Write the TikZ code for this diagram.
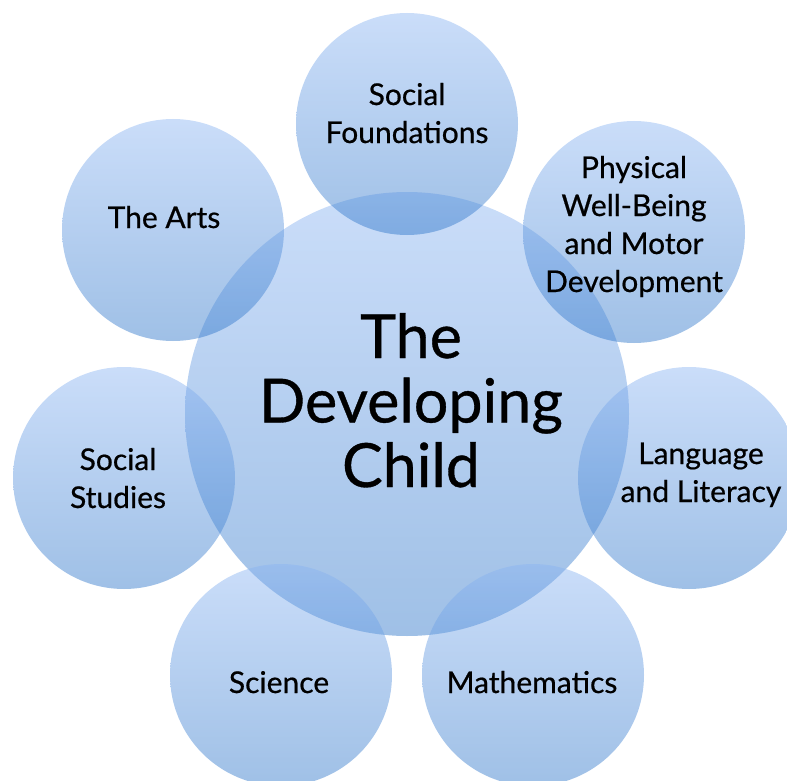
\documentclass[tikz,border=0pt]{standalone}
\usepackage{fontspec}
\setmainfont{Lato}[FakeBold=0.6]
\definecolor{ctop}{RGB}{138,180,242}
\definecolor{cbot}{RGB}{42,115,200}
\tikzset{
  bubble/.style={circle, inner sep=0pt, minimum size=#1, shade, top color=ctop, bottom color=cbot, fill opacity=0.45, draw=none},
  lbl/.style={align=center, inner sep=0pt, text=black, font=\fontsize{30}{38}\selectfont},
  biglbl/.style={align=center, inner sep=0pt, text=black, font=\fontsize{61}{64.5}\selectfont}
}
\begin{document}
\begin{tikzpicture}[x=1pt,y=-1pt]
\useasboundingbox (0,0) rectangle (787,781);
\clip (0,0) rectangle (787,781);
% circles
\node[bubble=444pt] (child) at (407,414) {};
\node[bubble=222pt] (found) at (407,124) {};
\node[bubble=222pt] (phys) at (634,232) {};
\node[bubble=222pt] (lang) at (689,478) {};
\node[bubble=222pt] (math) at (533,675) {};
\node[bubble=222pt] (sci) at (281,675) {};
\node[bubble=222pt] (socst) at (124,478) {};
\node[bubble=222pt] (arts) at (173,230) {};
% labels (anchor=base is the baseline of the last line)
\node[biglbl, anchor=base] (tchild) at (411,487) {The\\Developing\\Child};
\node[lbl, anchor=base] (tfound) at (407,143) {Social\\Foundations};
\node[lbl, anchor=base] (tphys) at (634,292) {Physical\\Well-Being\\and Motor\\Development};
\node[lbl, anchor=base] (tlang) at (701,502) {Language\\and Literacy};
\node[lbl, anchor=base] (tmath) at (532,693) {Mathematics};
\node[lbl, anchor=base] (tsci) at (279,693) {Science};
\node[lbl, anchor=base] (tsocst) at (118,508) {Social\\Studies};
\node[lbl, anchor=base] (tarts) at (164,228) {The Arts};
\end{tikzpicture}
\end{document}
